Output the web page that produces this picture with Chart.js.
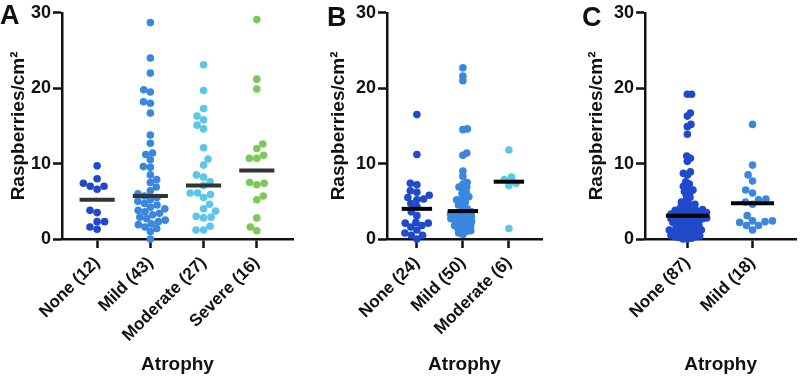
<!DOCTYPE html>
<html>
<head>
<meta charset="utf-8">
<script src="https://cdn.jsdelivr.net/npm/chart.js@4.4.1/dist/chart.umd.min.js"></script>
<style>
  html, body { margin: 0; padding: 0; background: #fff; }
  #wrap { position: relative; width: 800px; height: 376px; }
  .panel { position: absolute; top: 0; height: 376px; }
</style>
</head>
<body>
<div id="wrap">
  <div class="panel" style="left:0;width:300px"><canvas id="chartA"></canvas></div>
  <div class="panel" style="left:300px;width:260px"><canvas id="chartB"></canvas></div>
  <div class="panel" style="left:560px;width:240px"><canvas id="chartC"></canvas></div>
</div>
<script>
// Panel A
const aLabels = ['None (12)', 'Mild (43)', 'Moderate (27)', 'Severe (16)'];
const aNone = [9.7, 8.0, 7.4, 7.0, 7.0, 6.6, 3.8, 3.5, 2.3, 2.3, 1.6, 1.3];
const aMild = [28.7, 24.0, 22.0, 19.8, 19.5, 18.2, 18.0, 16.7, 13.8, 12.7, 11.4, 11.2, 10.5, 9.6, 9.5,
  8.5, 7.9, 7.5, 6.9, 6.4, 6.0, 5.7, 5.5, 5.2, 5.0, 4.7, 4.5, 4.2, 4.0, 3.8, 3.6, 3.4, 3.2, 2.9, 2.7,
  2.5, 2.3, 2.0, 1.9, 1.6, 1.4, 1.0, 0.0];
const aModerate = [23.1, 19.7, 17.3, 16.3, 15.8, 15.1, 14.6, 12.1, 10.6, 9.8, 8.5, 8.2, 7.6, 7.1,
  6.1, 6.1, 5.9, 5.5, 4.6, 4.0, 3.7, 3.0, 2.9, 2.8, 1.7, 1.2, 1.2];
const aSevere = [29.1, 21.2, 19.9, 12.6, 12.0, 11.1, 10.7, 10.7, 7.5, 7.4, 7.2, 5.7, 5.2, 2.8, 1.6, 1.1];
const aMedians = [5.2, 5.7, 7.1, 9.1];

// Panel B
const bLabels = ['None (24)', 'Mild (50)', 'Moderate (6)'];
const bNone = [16.5, 11.2, 7.4, 7.2, 6.4, 6.2, 5.8, 5.5, 5.3, 5.2, 4.7, 4.3, 3.6, 3.1, 2.2, 2.1, 2.1,
  1.8, 1.6, 1.2, 0.8, 0.5, 0.5, 0.0];
const bMild = [22.7, 21.6, 21.0, 14.6, 14.5, 11.4, 11.1, 9.0, 8.3, 7.5, 7.3, 6.9, 6.9, 6.6, 6.2, 6.0,
  5.6, 5.5, 5.2, 5.1, 4.9, 4.5, 4.4, 4.0, 3.8, 3.6, 3.5, 3.4, 3.3, 3.2, 3.1, 3.0, 2.9, 2.8, 2.7, 2.6,
  2.5, 2.3, 2.2, 2.1, 2.0, 1.8, 1.7, 1.6, 1.4, 1.3, 1.1, 1.0, 0.8, 0.6];
const bModerate = [11.8, 8.2, 7.9, 7.4, 7.1, 1.4];
const bMedians = [4.0, 3.7, 7.6];

// Panel C
const cLabels = ['None (87)', 'Mild (18)'];
const cNone = [19.2, 19.2, 16.7, 16.3, 15.2, 14.9, 13.9, 11.0, 10.7, 10.3, 8.9, 8.7, 8.5, 7.6, 7.3,
  7.0, 6.8, 6.5, 6.3, 6.1, 5.8, 5.5, 5.2, 4.9, 4.7, 4.6, 4.5, 4.3, 4.2, 4.1, 4.0, 3.9, 3.8, 3.8, 3.7,
  3.6, 3.5, 3.5, 3.4, 3.4, 3.3, 3.3, 3.2, 3.1,
  3.0, 3.0, 2.9, 2.9, 2.8, 2.8, 2.7, 2.7, 2.6, 2.5, 2.5, 2.4, 2.3, 2.2, 2.2, 2.1, 2.0, 1.9, 1.8, 1.8,
  1.7, 1.6, 1.5, 1.4, 1.3, 1.2, 1.2, 1.1, 1.0, 0.9, 0.8, 0.8, 0.7, 0.6, 0.5, 0.5, 0.4, 0.3, 0.3, 0.2,
  0.1, 0.0, 0.0];
const cMild = [15.2, 9.8, 8.5, 7.7, 6.5, 6.1, 5.3, 5.2, 4.9, 4.6, 3.1, 2.4, 2.4, 2.3, 2.2, 1.8, 1.8, 1.2];
const cMedians = [3.1, 4.75];

const yTicks = [0, 10, 20, 30];

const DARK = '#2049cc';
const MID = '#3a87e0';
const LIGHT = '#5cc6e8';
const GREEN = '#7cc95a';
const AXIS = '#111111';

Chart.defaults.font.family = "'Liberation Sans', Arial, sans-serif";

// draws the panel letter (A, B, C) in the top left corner
const letterPlugin = {
  id: 'panelLetter',
  afterDraw(chart, args, opts) {
    const ctx = chart.ctx;
    ctx.save();
    ctx.font = "bold 27px 'Liberation Sans', Arial, sans-serif";
    ctx.fillStyle = AXIS;
    ctx.textBaseline = 'alphabetic';
    ctx.fillText(opts.text, opts.x, opts.y);
    ctx.restore();
  }
};

// simple beeswarm: offsets in pixels, closest to centre without collision
function swarm(values, pxY, diam) {
  const order = values.map((v, i) => i).sort((a, b) => values[a] - values[b]);
  const placed = [];
  const out = new Array(values.length);
  order.forEach((idx, k) => {
    const y = values[idx] * pxY;
    const blocked = [];
    placed.forEach(p => {
      const dy = Math.abs(p.y - y);
      if (dy < diam) {
        const dx = Math.sqrt(diam * diam - dy * dy);
        blocked.push([p.x - dx, p.x + dx]);
      }
    });
    const cands = [0];
    blocked.forEach(b => cands.push(b[0], b[1]));
    let best = null;
    cands.forEach(c => {
      if (blocked.some(b => c > b[0] + 1e-6 && c < b[1] - 1e-6)) return;
      if (best === null) { best = c; return; }
      const d = Math.abs(c) - Math.abs(best);
      if (d < -1e-6 || (Math.abs(d) < 1e-6 && (k % 2 ? c < best : c > best))) best = c;
    });
    placed.push({ x: best, y: y });
    out[idx] = best;
  });
  return out;
}

// shrink the spacing until the swarm fits inside the allowed half width
function fitSwarm(values, pxY, maxHalf) {
  let g = 7.5;
  let offs = swarm(values, pxY, g);
  while (Math.max(...offs.map(Math.abs)) > maxHalf && g > 2) {
    g -= 0.25;
    offs = swarm(values, pxY, g);
  }
  return offs;
}

function buildPanel(id, cfg) {
  const datasets = cfg.series.map((vals, i) => ({
    data: vals.map(v => ({ x: i, y: v })),
    backgroundColor: cfg.colors[i],
    borderWidth: 0,
    pointRadius: 3.8,
    pointHoverRadius: 3.8,
    clip: false,
    order: 1
  }));
  cfg.medians.forEach((m, i) => {
    datasets.push({
      data: [{ x: i - 0.33, y: m }, { x: i + 0.33, y: m }],
      showLine: true,
      borderColor: cfg.medianColor,
      borderWidth: 4,
      pointRadius: 0,
      clip: false,
      order: 0
    });
  });

  const chart = new Chart(document.getElementById(id), {
    type: 'scatter',
    data: { datasets: datasets },
    options: {
      responsive: true,
      maintainAspectRatio: false,
      animation: false,
      layout: { padding: { top: 10, right: cfg.padRight, left: 0, bottom: 0 } },
      plugins: {
        legend: { display: false },
        tooltip: { enabled: false },
        panelLetter: cfg.letter
      },
      scales: {
        x: {
          type: 'linear',
          min: cfg.xMin,
          max: cfg.xMax,
          afterBuildTicks: s => { s.ticks = cfg.labels.map((_, i) => ({ value: i })); },
          afterFit: s => { s.height = 137; },
          ticks: {
            callback: v => cfg.labels[v],
            autoSkip: false,
            minRotation: 45,
            maxRotation: 45,
            padding: 5,
            color: AXIS,
            font: { size: 17, weight: 'bold' }
          },
          grid: { drawOnChartArea: false, tickLength: 9, tickWidth: 2.5, tickColor: AXIS },
          border: { width: 2.5, color: AXIS },
          title: {
            display: true,
            text: 'Atrophy',
            color: AXIS,
            font: { size: 19, weight: 'bold' },
            padding: { top: 0, bottom: 0 }
          }
        },
        y: {
          min: 0,
          max: 30,
          afterBuildTicks: s => { s.ticks = yTicks.map(v => ({ value: v })); },
          afterFit: s => { s.width = cfg.yWidth; },
          ticks: { padding: 2, color: AXIS, font: { size: 18, weight: 'bold' } },
          grid: { drawOnChartArea: false, tickLength: 9, tickWidth: 2.5, tickColor: AXIS },
          border: { width: 2.5, color: AXIS },
          title: {
            display: true,
            text: 'Raspberries/cm²',
            color: AXIS,
            font: { size: 19, weight: 'bold' },
            padding: { top: cfg.titlePad, bottom: 0 }
          }
        }
      }
    },
    plugins: [letterPlugin]
  });

  // spread the dots sideways once the scales are known
  const xs = chart.scales.x;
  const ys = chart.scales.y;
  const pxX = Math.abs(xs.getPixelForValue(1) - xs.getPixelForValue(0));
  const pxY = Math.abs(ys.getPixelForValue(0) - ys.getPixelForValue(1));
  cfg.series.forEach((vals, i) => {
    const offs = fitSwarm(vals, pxY, cfg.maxHalf);
    chart.data.datasets[i].data = vals.map((v, k) => ({ x: i + offs[k] / pxX, y: v }));
  });
  chart.update('none');
  return chart;
}

buildPanel('chartA', {
  labels: aLabels,
  series: [aNone, aMild, aModerate, aSevere],
  medians: aMedians,
  colors: [DARK, MID, LIGHT, GREEN],
  medianColor: '#333333',
  xMin: -0.66, xMax: 3.68,
  yWidth: 62, padRight: 7, titlePad: 7,
  maxHalf: 15,
  letter: { text: 'A', x: 0, y: 24 }
});

buildPanel('chartB', {
  labels: bLabels,
  series: [bNone, bMild, bModerate],
  medians: bMedians,
  colors: [DARK, MID, LIGHT],
  medianColor: '#000000',
  xMin: -0.65, xMax: 2.72,
  yWidth: 87, padRight: 18, titlePad: 27,
  maxHalf: 13,
  letter: { text: 'B', x: 27, y: 26 }
});

buildPanel('chartC', {
  labels: cLabels,
  series: [cNone, cMild],
  medians: cMedians,
  colors: [DARK, MID],
  medianColor: '#000000',
  xMin: -0.65, xMax: 1.67,
  yWidth: 85, padRight: 2, titlePad: 25,
  maxHalf: 20,
  letter: { text: 'C', x: 22, y: 26 }
});
</script>
</body>
</html>
